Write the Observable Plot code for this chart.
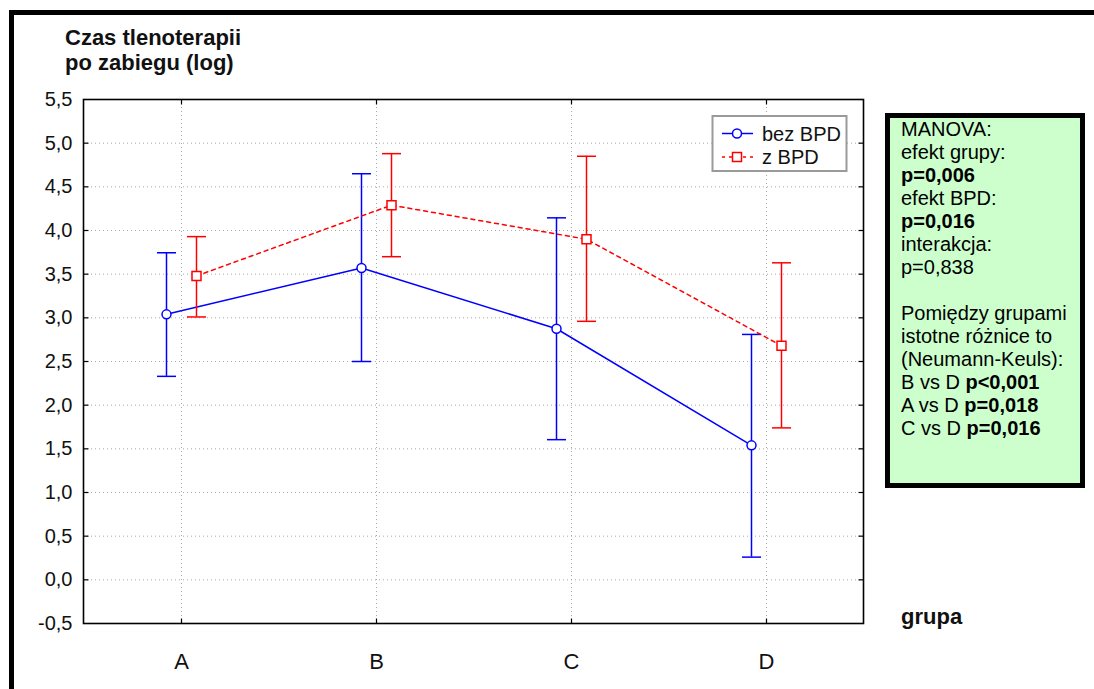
<!DOCTYPE html>
<html><head><meta charset="utf-8">
<script src="https://cdn.jsdelivr.net/npm/d3@7"></script>
<script src="https://cdn.jsdelivr.net/npm/@observablehq/plot@0.6"></script>
<style>
html,body{margin:0;padding:0;background:#fff;overflow:hidden;}
#wrap{position:relative;width:1094px;height:689px;overflow:hidden;font-family:"Liberation Sans",Arial,sans-serif;}
#frame{position:absolute;left:9px;top:10px;width:1300px;height:900px;border-left:5px solid #000;border-top:5px solid #000;pointer-events:none;}
#stats{position:absolute;left:885px;top:113px;width:200px;height:375px;box-sizing:border-box;border:5px solid #000;background:#ccffcc;padding:0 0 0 11px;font-size:20px;line-height:23px;color:#000;white-space:nowrap;}
#overlay{position:absolute;left:0;top:0;}
</style></head>
<body><div id="wrap"></div>
<script>
// ---- data ----
const groups = ["A", "B", "C", "D"];
const seriesNames = ["bez BPD", "z BPD"];
const seriesColors = ["#0000ff", "#ff0000"];
const bezMean  = [3.04, 3.57, 2.875, 1.54];
const bezUpper = [3.745, 4.65, 4.145, 2.81];
const bezLower = [2.33, 2.50, 1.605, 0.26];
const zMean  = [3.48, 4.29, 3.90, 2.68];
const zUpper = [3.93, 4.88, 4.85, 3.63];
const zLower = [3.01, 3.70, 2.96, 1.74];
const yTicks = [-0.5, 0, 0.5, 1, 1.5, 2, 2.5, 3, 3.5, 4, 4.5, 5, 5.5];
const yGrid = [0, 0.5, 1, 1.5, 2, 2.5, 3, 3.5, 4, 4.5, 5];
const titleLines = ["Czas tlenoterapii", "po zabiegu (log)"];
const xAxisTitle = "grupa";
const statsText = [
  ["MANOVA:", ""],
  ["efekt grupy:", ""],
  ["", "p=0,006"],
  ["efekt BPD:", ""],
  ["", "p=0,016"],
  ["interakcja:", ""],
  ["p=0,838", ""],
  ["", ""],
  ["Pomiędzy grupami", ""],
  ["istotne różnice to", ""],
  ["(Neumann-Keuls):", ""],
  ["B vs D ", "p<0,001"],
  ["A vs D ", "p=0,018"],
  ["C vs D ", "p=0,016"]
];

const bez = groups.map((g, i) => ({group: g, mean: bezMean[i], hi: bezUpper[i], lo: bezLower[i]}));
const zb = groups.map((g, i) => ({group: g, mean: zMean[i], hi: zUpper[i], lo: zLower[i]}));

// custom symbols
const cap = {draw(ctx) { ctx.moveTo(-9.5, 0); ctx.lineTo(9.5, 0); }};
const tickRight = {draw(ctx) { ctx.moveTo(0, 0); ctx.lineTo(5, 0); }};
const tickLeft = {draw(ctx) { ctx.moveTo(0, 0); ctx.lineTo(-5, 0); }};
const tickDown = {draw(ctx) { ctx.moveTo(0, 0); ctx.lineTo(0, 5); }};
const tickUp = {draw(ctx) { ctx.moveTo(0, 0); ctx.lineTo(0, -5); }};
const square = {draw(ctx) { ctx.moveTo(-4.5, -4.5); ctx.lineTo(4.5, -4.5); ctx.lineTo(4.5, 4.5); ctx.lineTo(-4.5, 4.5); ctx.closePath(); }};

const fmt = d => d.toFixed(1).replace(".", ",");
const off = 15;
const gridStyle = {stroke: "#a8a8a8", strokeOpacity: 1, strokeDasharray: "1,3", strokeWidth: 1};

function seriesMarks(data, color, dx, dash, marker) {
  return [
    Plot.ruleX(data, {x: "group", y1: "lo", y2: "hi", dx, stroke: color, strokeWidth: 1.5}),
    Plot.dot(data, {x: "group", y: "hi", dx, symbol: cap, stroke: color, fill: "none", strokeWidth: 1.5}),
    Plot.dot(data, {x: "group", y: "lo", dx, symbol: cap, stroke: color, fill: "none", strokeWidth: 1.5}),
    Plot.line(data, {x: "group", y: "mean", dx, stroke: color, strokeWidth: 1.5, strokeDasharray: dash}),
    marker === "circle"
      ? Plot.dot(data, {x: "group", y: "mean", dx, r: 4.5, fill: "white", stroke: color, strokeWidth: 1.5})
      : Plot.dot(data, {x: "group", y: "mean", dx, symbol: square, fill: "white", stroke: color, strokeWidth: 1.5})
  ];
}

const chart = Plot.plot({
  width: 1094,
  height: 689,
  marginLeft: 83,
  marginRight: 231,
  marginTop: 99,
  marginBottom: 66,
  style: {fontFamily: '"Liberation Sans", Arial, sans-serif', background: "transparent", color: "#000", overflow: "visible"},
  x: {type: "point", domain: groups, padding: 0.5, label: null},
  y: {domain: [-0.5, 5.5], label: null},
  marks: [
    Plot.gridY(yGrid, gridStyle),
    Plot.gridX(groups, gridStyle),
    Plot.dot(yGrid, {y: d => d, frameAnchor: "left", symbol: tickRight, stroke: "#000", fill: "none", strokeWidth: 1.2}),
    Plot.dot(yGrid, {y: d => d, frameAnchor: "right", symbol: tickLeft, stroke: "#000", fill: "none", strokeWidth: 1.2}),
    Plot.dot(groups, {x: d => d, frameAnchor: "top", symbol: tickDown, stroke: "#000", fill: "none", strokeWidth: 1.2}),
    Plot.dot(groups, {x: d => d, frameAnchor: "bottom", symbol: tickUp, stroke: "#000", fill: "none", strokeWidth: 1.2}),
    Plot.frame({stroke: "#000", strokeWidth: 1.6}),
    Plot.axisY(yTicks, {tickSize: 0, tickPadding: 11, tickFormat: fmt, fontSize: 20, fill: "#111", label: null}),
    Plot.axisX({tickSize: 0, tickPadding: 30, fontSize: 22, fill: "#111", label: null}),
    ...seriesMarks(bez, seriesColors[0], -off, null, "circle"),
    ...seriesMarks(zb, seriesColors[1], off, "4,4", "square")
  ]
});

const wrap = document.getElementById("wrap");
chart.style.position = "absolute";
chart.style.left = "0px";
chart.style.top = "0px";
wrap.appendChild(chart);

const frame = document.createElement("div");
frame.id = "frame";
wrap.appendChild(frame);

// overlay: title, axis title, legend
const ov = d3.select(wrap).append("svg").attr("id", "overlay")
  .attr("width", 1094).attr("height", 689)
  .style("font-family", '"Liberation Sans", Arial, sans-serif');

ov.selectAll("text.title").data(titleLines).join("text")
  .attr("class", "title").attr("x", 65).attr("y", (d, i) => 45 + i * 25)
  .attr("font-size", 22).attr("font-weight", "bold").attr("fill", "#111").text(d => d);

ov.append("text").attr("x", 901).attr("y", 624).attr("font-size", 22)
  .attr("font-weight", "bold").attr("fill", "#111").text(xAxisTitle);

const lg = ov.append("g");
lg.append("rect").attr("x", 712.5).attr("y", 116).attr("width", 134).attr("height", 55)
  .attr("fill", "white").attr("stroke", "#9a9a9a").attr("stroke-width", 2);
seriesNames.forEach((name, i) => {
  const cy = 133.5 + i * 23.5;
  const col = seriesColors[i];
  lg.append("line").attr("x1", 722).attr("x2", 753).attr("y1", cy).attr("y2", cy)
    .attr("stroke", col).attr("stroke-width", 1.5).attr("stroke-dasharray", i ? "3,4" : null);
  if (i === 0) {
    lg.append("circle").attr("cx", 737).attr("cy", cy).attr("r", 4.5)
      .attr("fill", "white").attr("stroke", col).attr("stroke-width", 1.5);
  } else {
    lg.append("rect").attr("x", 732.5).attr("y", cy - 4.5).attr("width", 9).attr("height", 9)
      .attr("fill", "white").attr("stroke", col).attr("stroke-width", 1.5);
  }
  lg.append("text").attr("x", 762).attr("y", cy + 7).attr("font-size", 20)
    .attr("fill", "#111").text(name);
});

// stats box
const box = d3.select(wrap).append("div").attr("id", "stats");
statsText.forEach(([normal, bold]) => {
  const line = box.append("div");
  if (!normal && !bold) { line.html("&nbsp;"); return; }
  if (normal) line.append("span").text(normal);
  if (bold) line.append("b").text(bold);
});
</script>
</body></html>
